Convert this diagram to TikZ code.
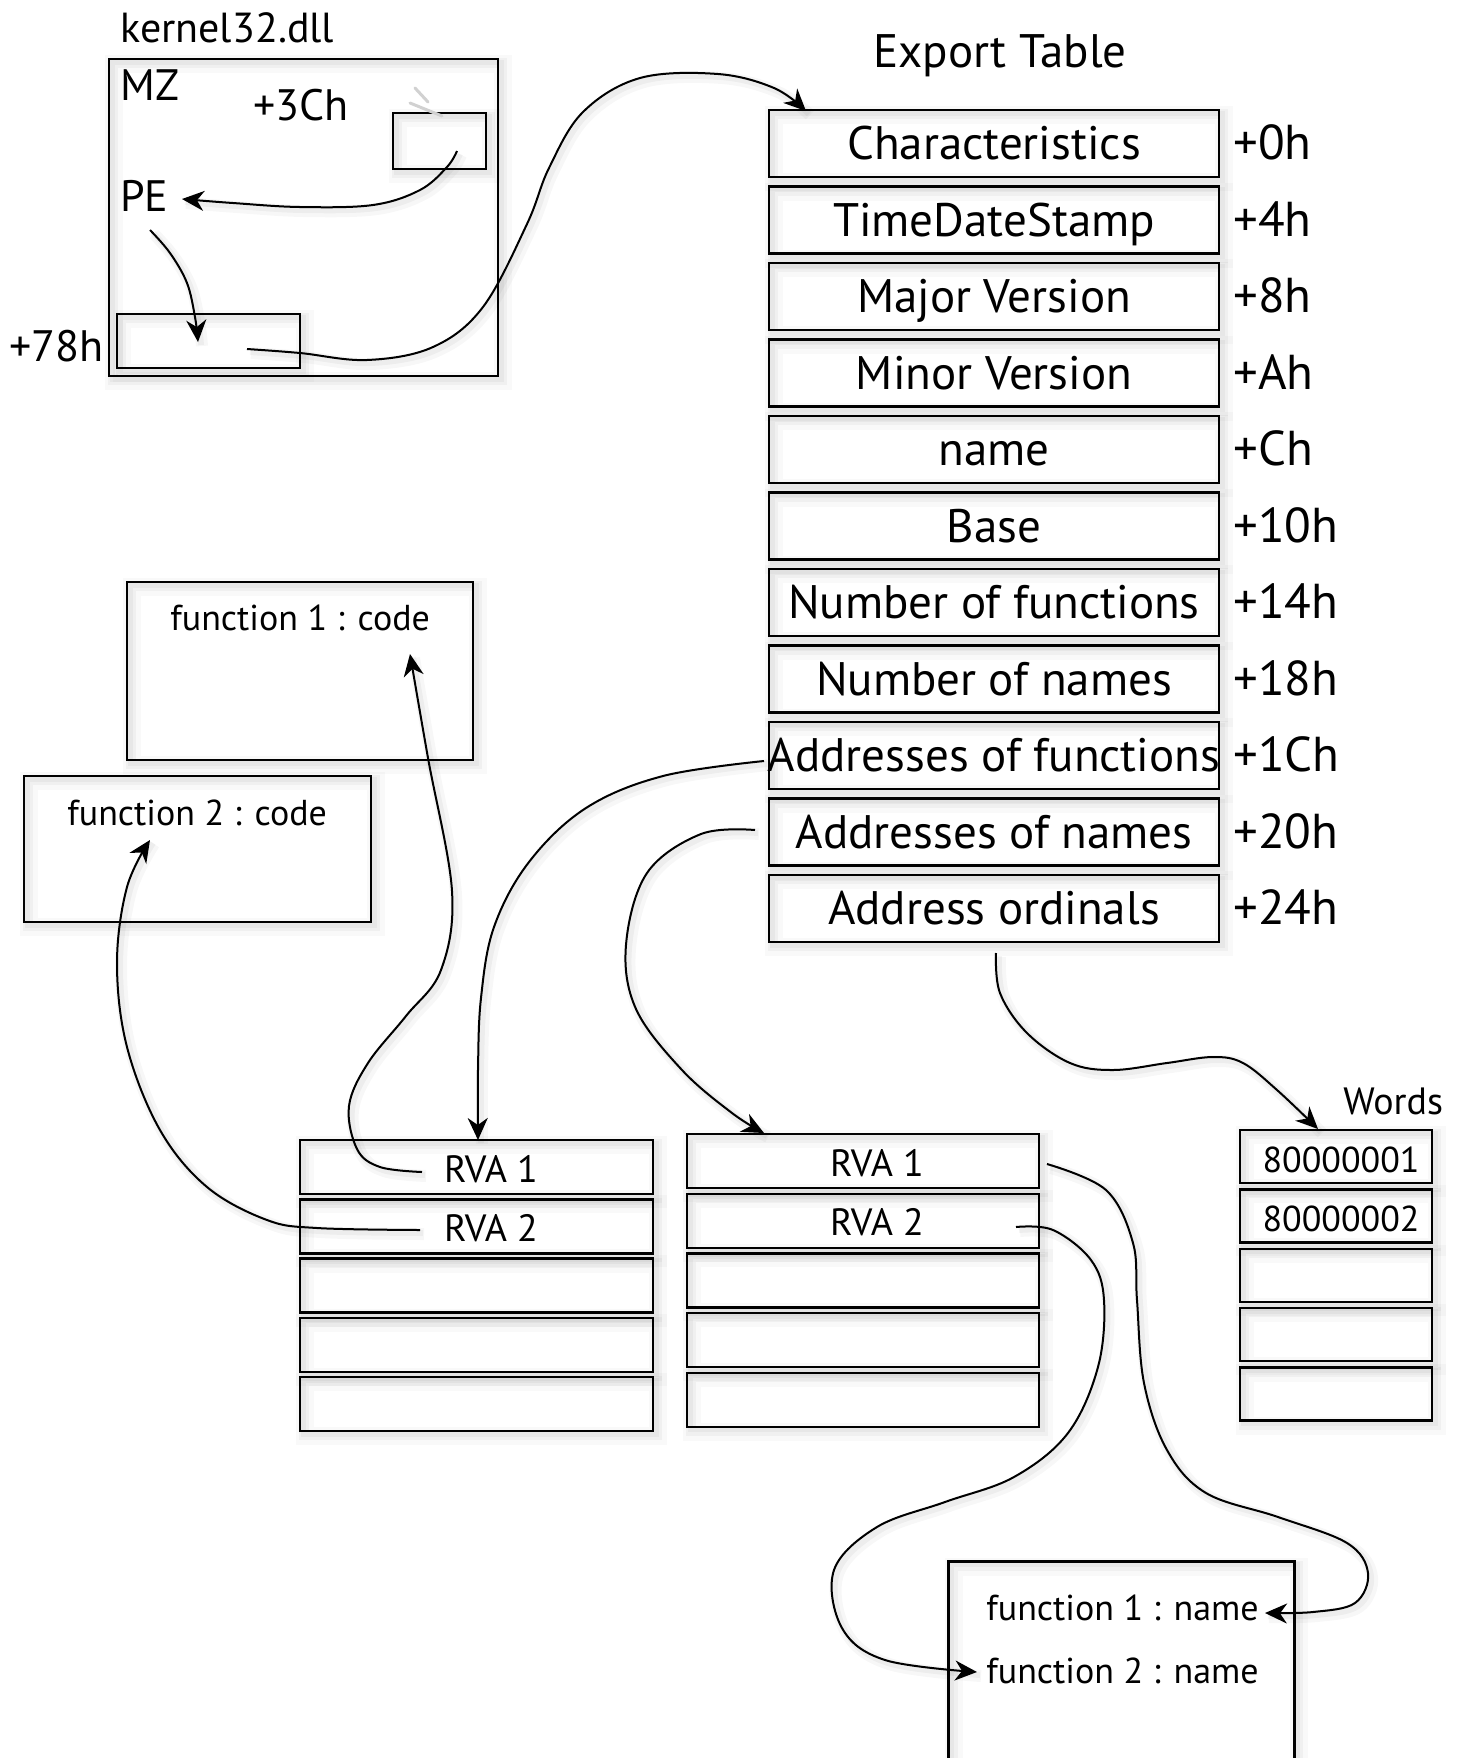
\documentclass[tikz,border=0pt]{standalone}
\usepackage{fontspec}
\setmainfont{PT Sans}
\usetikzlibrary{arrows.meta,calc}

\begin{document}
\begin{tikzpicture}[x=0.5pt,y=-0.5pt,
  halo/.style={
    preaction={draw=black, opacity=0.025, line width=9pt, transform canvas={xshift=2.5pt,yshift=-2.5pt}},
    preaction={draw=black, opacity=0.035, line width=5pt, transform canvas={xshift=2pt,yshift=-2pt}},
    preaction={draw=black, opacity=0.04, line width=2.5pt, transform canvas={xshift=1.5pt,yshift=-1.5pt}}},
  box/.style={draw, line width=1.2pt, inner sep=0pt, halo},
  big/.style={font=\fontsize{22}{24}\selectfont, inner sep=0pt},
  table/.style={font=\fontsize{23.5}{25}\selectfont, inner sep=0pt},
  offs/.style={font=\fontsize{24.5}{26}\selectfont, inner sep=0pt},
  mid/.style={font=\fontsize{19}{21}\selectfont, inner sep=0pt},
  num/.style={font=\fontsize{18}{20}\selectfont, inner sep=0pt},
  small/.style={font=\fontsize{18}{20}\selectfont, inner sep=0pt},
  link/.style={line width=1pt, -{Stealth[length=11pt,width=10pt,inset=3.5pt]},
    preaction={-, draw=black, opacity=0.03, line width=6pt, transform canvas={xshift=2pt,yshift=-2pt}},
    preaction={-, draw=black, opacity=0.04, line width=3pt, transform canvas={xshift=1.5pt,yshift=-1.5pt}}},
]
\useasboundingbox (0,0) rectangle (1461,1758);

% ---------------- kernel32.dll image ----------------
\node[font=\fontsize{21}{23}\selectfont, inner sep=0pt, anchor=base west] (dllname) at (120,42) {kernel32.dll};
\node[box, minimum width=194.5pt, minimum height=158.5pt] (dll) at (303.5,217.5) {};
\node[big, anchor=base west] (mz) at (120,100) {MZ};
\node[big, anchor=base west] (off3c) at (253,120) {+3Ch};
\node[box, minimum width=46.5pt, minimum height=28pt] (peptr) at (439.5,141) {};
\node[big, anchor=base west] (pe) at (120,211) {PE};
\node[box, minimum width=91.5pt, minimum height=27pt] (exptr) at (208.5,341) {};
\node[big, anchor=base west] (off78) at (9,361) {+78h};
% faint trace above the +3Ch field
\draw[black!18, line width=1.5pt, line cap=round] (415,88) -- (428,102) (410,103) -- (442,116);

% ---------------- export table ----------------
\node[table, anchor=base] (ettitle) at (1000,67) {Export Table};
\foreach \i/\t/\o in {0/Characteristics/+0h, 1/TimeDateStamp/+4h,
    2/Major Version/+8h, 3/Minor Version/+Ah, 4/name/+Ch, 5/Base/+10h,
    6/Number of functions/+14h, 7/Number of names/+18h,
    8/Addresses of functions/+1Ch, 9/Addresses of names/+20h,
    10/Address ordinals/+24h} {
  \node[box, minimum width=225pt, minimum height=33.5pt] (et\i) at (994,143.5+76.5*\i) {};
  \node[table, anchor=base] (et\i t) at ($(et\i.center)+(0,16)$) {\t};
  \node[offs, anchor=base west] (et\i o) at (1233,159.5+76.5*\i) {\o};
}

% ---------------- function code ----------------
\node[box, minimum width=173pt, minimum height=89pt] (code1) at (300,671) {};
\node[small, anchor=base west] (code1t) at (170,630) {function 1 : code};
\node[box, minimum width=173.5pt, minimum height=73pt] (code2) at (197.5,849) {};
\node[small, anchor=base west] (code2t) at (67,825) {function 2 : code};

% ---------------- address tables ----------------
\foreach \i/\t in {0/RVA 1, 1/RVA 2, 2/, 3/, 4/} {
  \node[box, minimum width=176.5pt, minimum height=27pt] (fa\i) at (476.5,1167+59.3*\i) {};
  \node[mid, anchor=base] (fa\i t) at (491,1182+59.3*\i) {\t};
  \node[box, minimum width=176pt, minimum height=27pt] (na\i) at (863,1161+59.7*\i) {};
  \node[mid, anchor=base] (na\i t) at (877,1176+59.7*\i) {\t};
}
\node[mid, anchor=base west] (words) at (1343,1114) {Words};
\foreach \i/\t in {0/80000001, 1/80000002, 2/, 3/, 4/} {
  \node[box, minimum width=96pt, minimum height=26.5pt] (ord\i) at (1336,1156.5+59.4*\i) {};
  \node[num, anchor=base] (ord\i t) at (1341,1172+59.4*\i) {\t};
}

% ---------------- function names ----------------
\node[inner sep=0pt, minimum width=172.5pt, minimum height=98pt] (names) at (1121.5,1660) {};
\draw[line width=1.2pt, halo] (names.south west) -- (names.north west) -- (names.north east) -- (names.south east);
\node[small, anchor=base west] (name1) at (986,1620) {function 1 : name};
\node[small, anchor=base west] (name2) at (986,1683) {function 2 : name};

% ---------------- connector ends ----------------
\coordinate (p3c) at (457,151);
\coordinate (pPE) at (150,230);
\coordinate (p78) at (247,349);
\coordinate (pet) at (806,111);
\coordinate (qaf) at (764,761);
\coordinate (qan) at (755,830);
\coordinate (qao) at (996,953);
\coordinate (tf1) at (478,1140);
\coordinate (tn1) at (764,1133);
\coordinate (to1) at (1318,1129);
\coordinate (rf1) at (422,1172);
\coordinate (rf2) at (420,1230);
\coordinate (rn1) at (1047,1164);
\coordinate (rn2) at (1016,1227);
\coordinate (tc1) at (410,654);
\coordinate (tc2) at (150,840);
\coordinate (tm1) at (1265,1613);
\coordinate (tm2) at (977,1672);
\coordinate (tpe) at (182,199);
\coordinate (t78) at (198,342);

% ---------------- connectors ----------------
\draw[link] plot[smooth, tension=0.6] coordinates {(p3c) (447,167) (420,190) (373,205) (300,207) (233,203) (tpe)};
\draw[link] plot[smooth, tension=0.6] coordinates {(pPE) (170,253) (187,283) (195,317) (t78)};
\draw[link] plot[smooth, tension=0.6] coordinates {(p78) (300,353) (367,360) (433,347) (483,307) (527,224) (549,168) (583,112) (640,78) (718,74) (774,88) (pet)};
\draw[link] plot[smooth, tension=0.6] coordinates {(qaf) (663,776) (586,808) (529,862) (494,927) (481,998) (478,1070) (tf1)};
\draw[link] plot[smooth, tension=0.6] coordinates {(qan) (701,834) (647,873) (626,945) (636,1009) (682,1070) (732,1113) (tn1)};
\draw[link] plot[smooth, tension=0.6] coordinates {(qao) (1000,993) (1027,1033) (1070,1063) (1113,1070) (1167,1063) (1213,1057) (1243,1063) (1277,1090) (to1)};
\draw[link] plot[smooth, tension=0.6] coordinates {(rf1) (380,1167) (357,1149) (349,1106) (368,1063) (406,1016) (441,970) (452,891) (428,758) (tc1)};
\draw[link] plot[smooth, tension=0.6] coordinates {(rf2) (317,1228) (267,1220) (207,1187) (160,1130) (127,1047) (117,963) (127,887) (tc2)};
\draw[link] plot[smooth, tension=0.6] coordinates {(rn1) (1106,1190) (1133,1243) (1137,1300) (1144,1383) (1167,1450) (1206,1493) (1278,1517) (1347,1543) (1368,1573) (1355,1603) (1313,1612) (tm1)};
\draw[link] plot[smooth, tension=0.6] coordinates {(rn2) (1053,1230) (1091,1260) (1104,1300) (1098,1367) (1068,1433) (1014,1477) (945,1502) (877,1527) (834,1570) (842,1628) (885,1660) (tm2)};
\end{tikzpicture}
\end{document}
